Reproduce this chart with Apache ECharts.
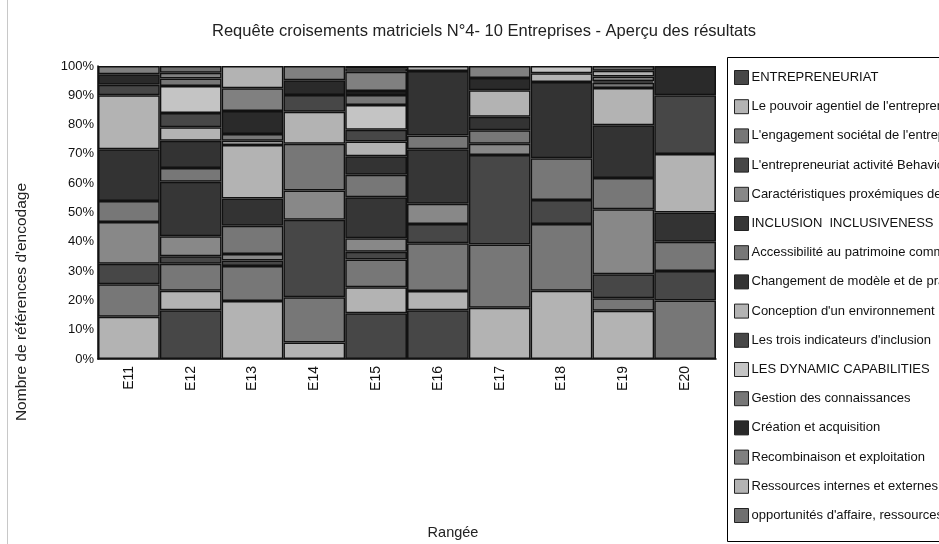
<!DOCTYPE html>
<html>
<head>
<meta charset="utf-8">
<script src="https://cdn.jsdelivr.net/npm/echarts@6/dist/echarts.min.js"></script>
<style>
html,body{margin:0;padding:0;background:#fff;}
#c{width:939px;height:544px;}
</style>
</head>
<body>
<div id="c"></div>
<script>
const categories = ['E11','E12','E13','E14','E15','E16','E17','E18','E19','E20'];
const yTicks = [0,10,20,30,40,50,60,70,80,90,100];

const seriesNames = [
  'ENTREPRENEURIAT',
  "Le pouvoir agentiel de l'entrepreneur",
  "L'engagement sociétal de l'entrepreneur",
  "L'entrepreneuriat activité Behavior",
  'Caractéristiques proxémiques des PME',
  'INCLUSION  INCLUSIVENESS',
  'Accessibilité au patrimoine commun',
  'Changement de modèle et de pratiques',
  "Conception d'un environnement inclusif",
  "Les trois indicateurs d'inclusion",
  'LES DYNAMIC CAPABILITIES',
  'Gestion des connaissances',
  'Création et acquisition',
  'Recombinaison et exploitation',
  'Ressources internes et externes',
  "opportunités d'affaire, ressources"
];

const sEntrepreneuriat = [0, 16.6, 0, 0, 15.6, 16.6, 0, 0, 0, 0];
const sPouvoir        = [14.4, 6.7, 19.8, 5.6, 8.9, 6.6, 17.5, 23.3, 16.5, 0];
const sEngagement     = [11.1, 9.2, 11.9, 15.5, 9.5, 16.3, 21.6, 22.8, 4.2, 20];
const sActivite       = [7.0, 2.6, 1.9, 26.4, 2.6, 6.6, 30.5, 8.2, 8.2, 10];
const sProxemiques    = [14.3, 6.8, 2.2, 10.0, 4.6, 6.9, 3.9, 0, 22.2, 0];
const sInclusion      = [0, 18.6, 0, 0, 14.0, 18.6, 0, 0, 0, 0];
const sAccessibilite  = [7.1, 4.7, 9.7, 16.0, 7.7, 4.7, 4.6, 14.2, 10.7, 10];
const sChangement     = [17.7, 9.3, 9.3, 0, 6.3, 22.0, 4.6, 26.0, 18.0, 10];
const sConception     = [18.4, 4.6, 18.2, 10.9, 5.0, 1.7, 9.0, 3.0, 12.7, 20];
const sTroisInd       = [3.6, 4.9, 0, 5.7, 4.0, 0, 0, 0, 0, 20];
const sDynamic        = [0, 9.2, 1.5, 0, 8.5, 0, 0, 2.5, 0, 0];
const sGestion        = [0, 2.5, 2.3, 0, 3.4, 0, 0, 0, 1.8, 0];
const sCreation       = [3.6, 0, 7.8, 5.0, 1.4, 0, 4.2, 0, 0.5, 10];
const sRecombinaison  = [2.8, 2.0, 7.8, 4.9, 6.5, 0, 4.1, 0, 1.6, 0];
const sRessources     = [0, 0, 7.6, 0, 1.2, 0, 0, 0, 2.0, 0];
const sOpportunites   = [0, 2.3, 0, 0, 0.8, 0, 0, 0, 1.6, 0];

const seriesValues = [sEntrepreneuriat, sPouvoir, sEngagement, sActivite, sProxemiques,
  sInclusion, sAccessibilite, sChangement, sConception, sTroisInd, sDynamic, sGestion,
  sCreation, sRecombinaison, sRessources, sOpportunites];

const colors = ['#474747','#b3b3b3','#777777','#474747','#888888','#363636','#777777','#333333',
  '#b3b3b3','#474747','#c4c4c4','#777777','#2a2a2a','#808080','#b3b3b3','#707070'];

const chart = echarts.init(document.getElementById('c'), null, {renderer:'canvas'});
const font = 'Liberation Sans, Arial, sans-serif';

chart.setOption({
  animation: false,
  color: colors,
  textStyle: {fontFamily: font},
  title: {
    text: 'Requête croisements matriciels N°4- 10 Entreprises - Aperçu des résultats',
    left: 479, top: 18, textAlign: 'center',
    textStyle: {fontSize: 16.5, fontWeight: 'normal', color: '#222', fontFamily: font}
  },
  grid: {left: 98, top: 66, right: 223, bottom: 185, containLabel: false},
  legend: {
    orient: 'vertical',
    left: 734, top: 70,
    padding: 0,
    itemWidth: 14, itemHeight: 14, itemGap: 14.2,
    icon: 'rect',
    itemStyle: {borderColor: '#222', borderWidth: 1},
    textStyle: {fontSize: 13, color: '#111', fontFamily: font, padding: [0,0,0,-2]},
    data: seriesNames
  },
  xAxis: {
    type: 'category',
    data: categories,
    axisLine: {lineStyle: {color: '#000', width: 1.5}},
    axisTick: {show: false},
    axisLabel: {rotate: 90, fontSize: 14, color: '#111', margin: 7, fontFamily: font}
  },
  yAxis: {
    type: 'value', min: 0, max: 100, interval: 10,
    axisLine: {show: true, lineStyle: {color: '#000', width: 1.5}},
    axisTick: {show: false},
    splitLine: {show: false},
    axisLabel: {formatter: '{value}%', fontSize: 13, color: '#111', margin: 4, fontFamily: font}
  },
  graphic: [
    {type: 'line', shape: {x1: 7.5, y1: 0, x2: 7.5, y2: 544}, style: {stroke: '#c8c8c8', lineWidth: 1}},
    {type: 'rect', shape: {x: 727.5, y: 57.5, width: 230, height: 484}, style: {fill: 'none', stroke: '#000', lineWidth: 1}, z: 1},
    {type: 'text', x: 22, y: 302, rotation: Math.PI/2,
      style: {text: "Nombre de références d'encodage", font: '15.5px ' + font, fill: '#222', align: 'center', verticalAlign: 'middle'}},
    {type: 'text', x: 453, y: 533,
      style: {text: 'Rangée', font: '14.5px ' + font, fill: '#222', align: 'center', verticalAlign: 'middle'}}
  ],
  series: seriesNames.map((n, i) => ({
    name: n, type: 'bar', stack: 'total',
    barCategoryGap: '0%',
    data: seriesValues[i].map(v => v === 0 ? null : v),
    itemStyle: {color: colors[i], borderColor: '#111', borderWidth: 1.5}
  }))
});
</script>
</body>
</html>
